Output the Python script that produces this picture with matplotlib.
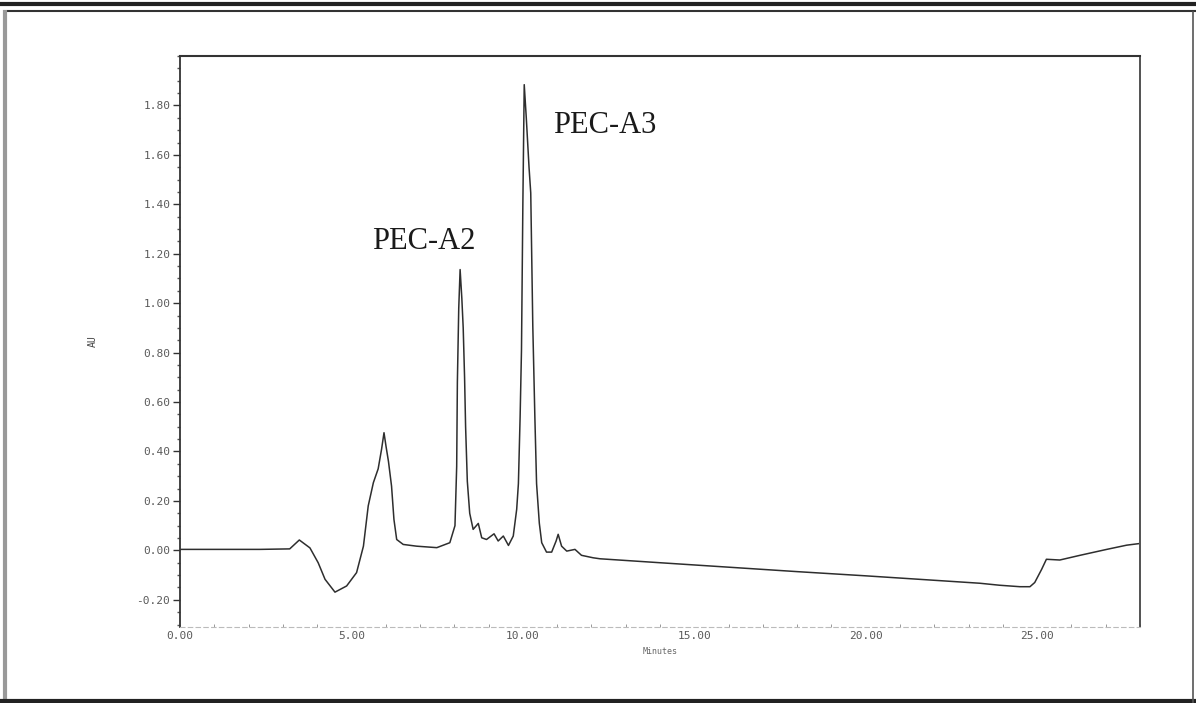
import matplotlib
matplotlib.use("Agg")
import matplotlib.pyplot as plt
from matplotlib.lines import Line2D
from matplotlib.ticker import MultipleLocator, FixedLocator

# HPLC trace: retention time (min) vs absorbance (AU)
time_min = [0.0, 2.33, 3.2, 3.48, 3.79, 4.03, 4.23, 4.52, 4.86, 5.15, 5.35, 5.49,
            5.64, 5.78, 5.88, 5.95, 6.01, 6.08, 6.17, 6.24, 6.32, 6.51, 6.9, 7.49,
            7.87, 8.02, 8.07, 8.09, 8.13, 8.17, 8.22, 8.26, 8.3, 8.33, 8.38, 8.45,
            8.55, 8.7, 8.8, 8.94, 9.16, 9.28, 9.43, 9.58, 9.72, 9.82, 9.87, 9.92,
            9.96, 10.0, 10.04, 10.1, 10.18, 10.23, 10.29, 10.35, 10.4, 10.48, 10.55,
            10.69, 10.84, 10.97, 11.03, 11.13, 11.28, 11.52, 11.71, 12.05, 12.25,
            14.0, 16.0, 18.0, 20.0, 22.0, 23.33, 23.9, 24.5, 24.79, 24.93, 25.13,
            25.27, 25.66, 26.25, 27.03, 27.61, 27.95]
absorbance = [0.004, 0.004, 0.006, 0.042, 0.01, -0.05, -0.117, -0.169, -0.144, -0.09,
              0.017, 0.18, 0.274, 0.33, 0.41, 0.476, 0.42, 0.36, 0.26, 0.125, 0.044,
              0.024, 0.017, 0.011, 0.031, 0.1, 0.34, 0.68, 0.98, 1.136, 1.02, 0.9,
              0.7, 0.5, 0.28, 0.15, 0.085, 0.109, 0.051, 0.044, 0.067, 0.038, 0.058,
              0.02, 0.058, 0.166, 0.27, 0.54, 0.81, 1.4, 1.884, 1.75, 1.55, 1.446,
              0.907, 0.54, 0.27, 0.11, 0.031, -0.007, -0.007, 0.038, 0.065, 0.017,
              -0.003, 0.004, -0.02, -0.03, -0.034, -0.05, -0.068, -0.086, -0.103,
              -0.121, -0.133, -0.141, -0.147, -0.147, -0.13, -0.077, -0.036, -0.039,
              -0.02, 0.004, 0.021, 0.027]

x_ticks = [0, 5, 10, 15, 20, 25]
x_ticklabels = ["0.00", "5.00", "10.00", "15.00", "20.00", "25.00"]
y_ticks = [-0.2, 0.0, 0.2, 0.4, 0.6, 0.8, 1.0, 1.2, 1.4, 1.6, 1.8]

peak_labels = ["PEC-A2", "PEC-A3"]
peak_label_pos = [(5.6, 1.22), (10.87, 1.69)]

fig = plt.figure(figsize=(11.96, 7.03), dpi=100)
fig.patch.set_facecolor("white")
ax = fig.add_axes([180 / 1196, 1 - 627 / 703, 960 / 1196, 571 / 703])

ax.plot(time_min, absorbance, color="#2e2e2e", lw=1.1)

ax.set_xlim(0, 28)
ax.set_ylim(-0.31, 2.0)

mono = {"family": "DejaVu Sans Mono", "size": 8, "color": "#5a5a5a"}
ax.xaxis.set_major_locator(FixedLocator(x_ticks))
ax.set_xticklabels(x_ticklabels, fontdict=mono)
ax.xaxis.set_minor_locator(MultipleLocator(1))
ax.tick_params(axis="x", which="major", length=0, pad=3)
ax.tick_params(axis="x", which="minor", direction="in", length=2, color="#888888")

ax.yaxis.set_major_locator(FixedLocator(y_ticks))
ax.set_yticklabels(["%.2f" % v for v in y_ticks], fontdict=mono)
ax.yaxis.set_minor_locator(MultipleLocator(0.05))
ax.tick_params(axis="y", which="major", direction="out", length=5, width=1,
               color="#333333", pad=2)
ax.tick_params(axis="y", which="minor", direction="out", length=2.5, width=1,
               color="#555555")

ax.set_xlabel("Minutes", fontsize=6, color="#666666", labelpad=4,
              family="DejaVu Sans Mono")
ax.set_ylabel("AU", fontsize=7, color="#444444", labelpad=28,
              family="DejaVu Sans Mono")

ax.spines["left"].set_color("#333333")
ax.spines["left"].set_linewidth(1.3)
ax.spines["left"].set_linestyle((0, (2, 1)))
ax.spines["top"].set_color("#333333")
ax.spines["top"].set_linewidth(1.5)
ax.spines["right"].set_color("#444444")
ax.spines["right"].set_linewidth(1.3)
ax.spines["right"].set_linestyle((0, (2, 1)))
ax.spines["bottom"].set_color("#bbbbbb")
ax.spines["bottom"].set_linewidth(0.8)
ax.spines["bottom"].set_linestyle((0, (4, 3)))

for text, (tx, ty) in zip(peak_labels, peak_label_pos):
    ax.text(tx, ty, text, family="Liberation Serif", fontsize=22,
            color="#1a1a1a", ha="left", va="baseline")

# page frame around the printout
fig.add_artist(Line2D([0, 1], [1 - 4 / 703, 1 - 4 / 703], color="#222222", lw=3))
fig.add_artist(Line2D([8 / 1196, 1], [1 - 11 / 703, 1 - 11 / 703], color="#333333", lw=1.5))
fig.add_artist(Line2D([5 / 1196, 5 / 1196], [0, 1 - 12 / 703], color="#999999", lw=3))
fig.add_artist(Line2D([0, 1], [2 / 703, 2 / 703], color="#222222", lw=3))
fig.add_artist(Line2D([1193 / 1196, 1193 / 1196], [1 - 12 / 703, 0], color="#555555", lw=1.2))

fig.savefig("out.png", dpi=100, facecolor="white")
